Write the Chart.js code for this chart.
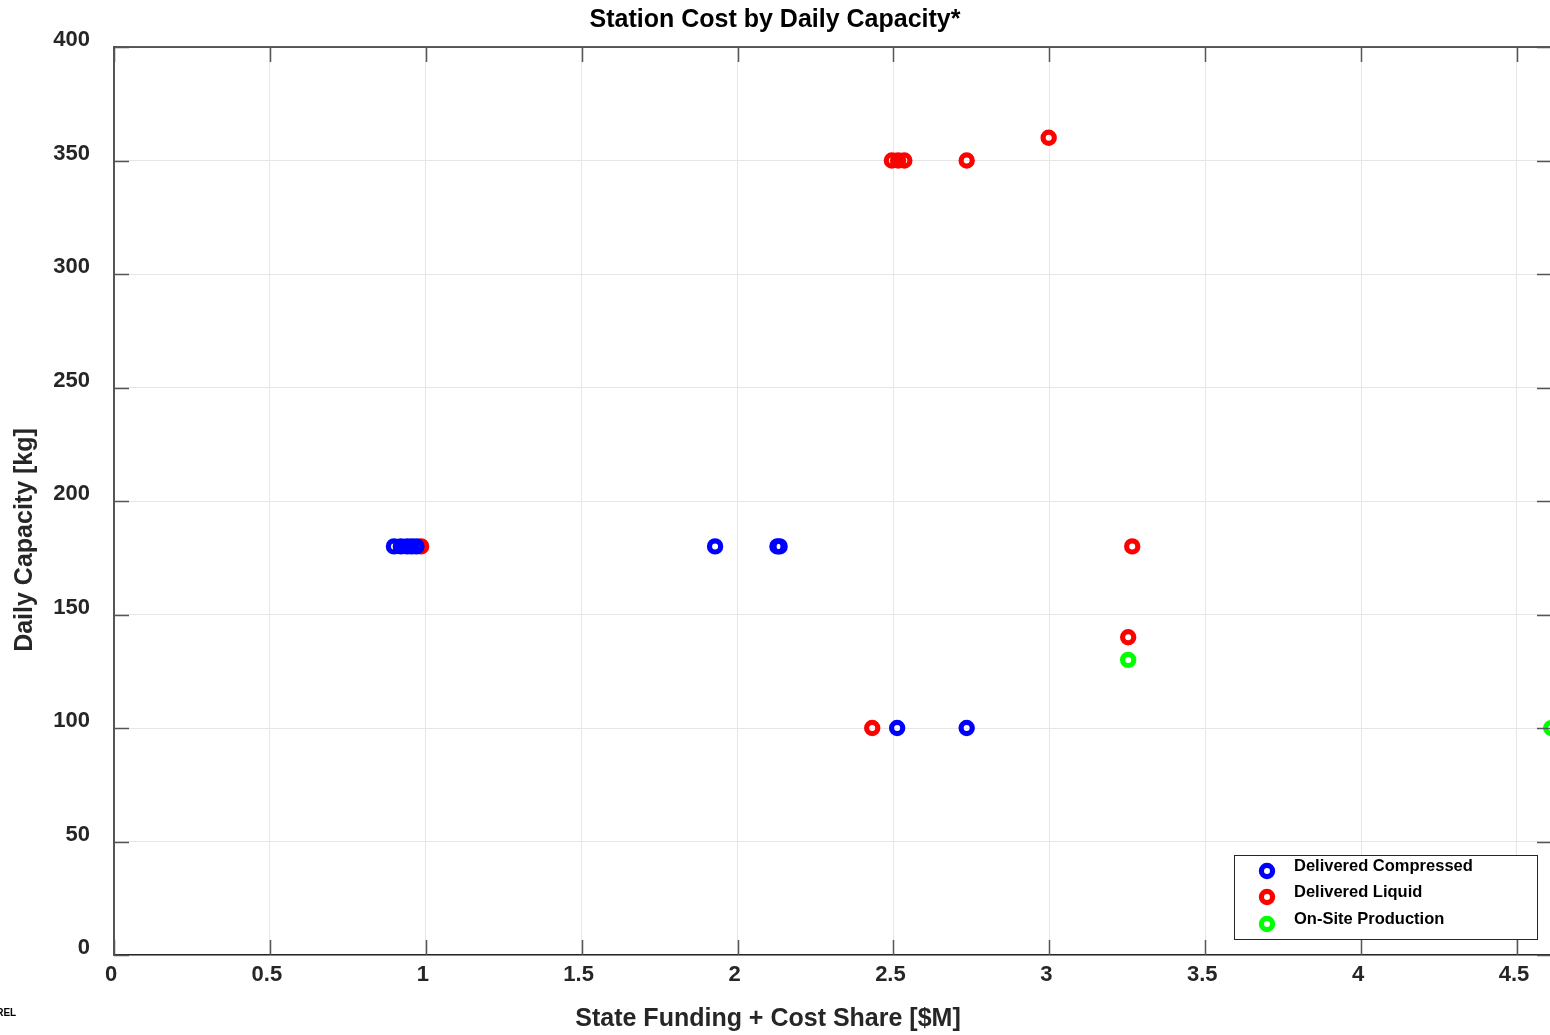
<!DOCTYPE html>
<html>
<head>
<meta charset="utf-8">
<script src="https://cdn.jsdelivr.net/npm/chart.js@4/dist/chart.umd.min.js"></script>
<style>
  html, body { margin: 0; padding: 0; background: #ffffff; overflow: hidden; }
  #wrap { position: relative; width: 1550px; height: 1035px; }
  #c { position: absolute; left: 0; top: 0; }
  #note { position: absolute; left: -11px; top: 1007px; font: bold 10px "Liberation Sans", Arial, sans-serif; color: #000; }
</style>
</head>
<body>
<div id="wrap">
  <canvas id="c" width="1550" height="1035"></canvas>
  <div id="note">NREL</div>
</div>
<script>
// ---- data ----
const chartTitle = "Station Cost by Daily Capacity*";
const xAxisTitle = "State Funding + Cost Share [$M]";
const yAxisTitle = "Daily Capacity [kg]";

const seriesNames = ["Delivered Compressed", "Delivered Liquid", "On-Site Production"];
const seriesColors = ["#0000ff", "#ff0000", "#00ff00"];

const compressedX = [0.898, 0.92, 0.94, 0.955, 0.97, 1.928, 2.128, 2.135, 2.512, 2.735];
const compressedY = [180, 180, 180, 180, 180, 180, 180, 180, 100, 100];

const liquidX = [0.985, 2.432, 2.495, 2.515, 2.535, 2.735, 2.998, 3.266, 3.253];
const liquidY = [180, 100, 350, 350, 350, 350, 360, 180, 140];

const onsiteX = [3.253, 4.61];
const onsiteY = [130, 100];

const xTicks = [0, 0.5, 1, 1.5, 2, 2.5, 3, 3.5, 4, 4.5];
const yTicks = [0, 50, 100, 150, 200, 250, 300, 350, 400];
const xMin = 0, xMax = 4.606;
const yMin = 0, yMax = 400;

// ---- build library structures ----
function toPoints(xs, ys) { return xs.map((x, i) => ({ x: x, y: ys[i] })); }
const seriesPoints = [toPoints(compressedX, compressedY), toPoints(liquidX, liquidY), toPoints(onsiteX, onsiteY)];

const FONT = '"Liberation Sans", Arial, Helvetica, sans-serif';
const TEXT = '#262626';

const datasets = seriesNames.map((name, i) => ({
  label: name,
  data: seriesPoints[i],
  borderColor: seriesColors[i],
  backgroundColor: 'rgba(0,0,0,0)',
  pointRadius: 5.6,
  pointHoverRadius: 5.6,
  pointBorderWidth: 5.2,
  borderWidth: 5.2,
  pointStyle: 'circle'
}));

const framePlugin = {
  id: 'frame',
  afterDraw(chart) {
    const ctx = chart.ctx;
    const a = chart.chartArea;
    const xs = chart.scales.x, ys = chart.scales.y;
    ctx.save();
    // top border
    ctx.strokeStyle = TEXT;
    ctx.lineWidth = 1.5;
    ctx.beginPath();
    ctx.moveTo(a.left, a.top); ctx.lineTo(a.right + 2, a.top);
    ctx.stroke();
    // inward tick marks
    ctx.strokeStyle = '#555555';
    ctx.lineWidth = 1.5;
    const L = 15;
    ctx.beginPath();
    xTicks.forEach(v => {
      const px = Math.round(xs.getPixelForValue(v)) + 0.5;
      ctx.moveTo(px, a.bottom); ctx.lineTo(px, a.bottom - L);
      ctx.moveTo(px, a.top); ctx.lineTo(px, a.top + L);
    });
    yTicks.forEach(v => {
      const py = Math.round(ys.getPixelForValue(v)) + 0.5;
      ctx.moveTo(a.left, py); ctx.lineTo(a.left + L, py);
      ctx.moveTo(a.right + 2, py); ctx.lineTo(a.right + 2 - L, py);
    });
    ctx.stroke();

    // axis titles
    ctx.fillStyle = TEXT;
    ctx.font = 'bold 25px ' + FONT;
    ctx.textAlign = 'center';
    ctx.textBaseline = 'middle';
    ctx.fillText(xAxisTitle, 768, 1019);
    ctx.save();
    ctx.translate(25, 540);
    ctx.rotate(-Math.PI / 2);
    ctx.fillText(yAxisTitle, 0, 0);
    ctx.restore();

    // legend box
    const bx = 1234.5, by = 855.5, bw = 303, bh = 84;
    ctx.fillStyle = '#ffffff';
    ctx.fillRect(bx, by, bw, bh);
    ctx.strokeStyle = TEXT;
    ctx.lineWidth = 1;
    ctx.strokeRect(bx, by, bw, bh);
    const rowsText = [866, 892, 919];
    const rowsMark = [871, 897, 924];
    chart.data.datasets.forEach((ds, i) => {
      ctx.beginPath();
      ctx.strokeStyle = ds.borderColor;
      ctx.lineWidth = 5.2;
      ctx.arc(1267, rowsMark[i], 5.6, 0, Math.PI * 2);
      ctx.stroke();
      ctx.fillStyle = '#000000';
      ctx.font = 'bold 16.5px ' + FONT;
      ctx.textAlign = 'left';
      ctx.textBaseline = 'middle';
      ctx.fillText(ds.label, 1294, rowsText[i]);
    });
    ctx.restore();
  }
};

new Chart(document.getElementById('c'), {
  type: 'scatter',
  data: { datasets: datasets },
  options: {
    responsive: false,
    animation: false,
    devicePixelRatio: 1,
    layout: { autoPadding: false, padding: { left: 0, right: 0, top: 0, bottom: 0 } },
    plugins: {
      legend: { display: false },
      tooltip: { enabled: false },
      title: {
        display: true,
        text: chartTitle,
        color: '#000000',
        font: { family: FONT, size: 25, weight: 'bold', lineHeight: 1.2 },
        padding: { top: 5, bottom: 12 }
      }
    },
    scales: {
      x: {
        type: 'linear',
        min: xMin, max: xMax,
        afterBuildTicks(scale) { scale.ticks = xTicks.map(v => ({ value: v })); },
        afterFit(scale) { scale.height = 80; scale.paddingLeft = 0; scale.paddingRight = 0; },
        ticks: {
          color: TEXT,
          font: { family: FONT, size: 22, weight: 'bold' },
          padding: 7,
          labelOffset: -3,
          maxRotation: 0,
          autoSkip: false,
          callback: (v) => String(v)
        },
        grid: { color: '#e6e6e6', lineWidth: 1, drawTicks: false },
        border: { display: true, color: TEXT, width: 1.5 }
      },
      y: {
        type: 'linear',
        min: yMin, max: yMax,
        afterBuildTicks(scale) { scale.ticks = yTicks.map(v => ({ value: v })); },
        afterFit(scale) { scale.width = 114; scale.paddingTop = 0; scale.paddingBottom = 0; },
        ticks: {
          color: TEXT,
          font: { family: FONT, size: 22, weight: 'bold' },
          padding: 24,
          labelOffset: -7,
          autoSkip: false,
          callback: (v) => String(v)
        },
        grid: { color: '#e6e6e6', lineWidth: 1, drawTicks: false },
        border: { display: true, color: '#555555', width: 2 }
      }
    }
  },
  plugins: [framePlugin]
});
</script>
</body>
</html>
